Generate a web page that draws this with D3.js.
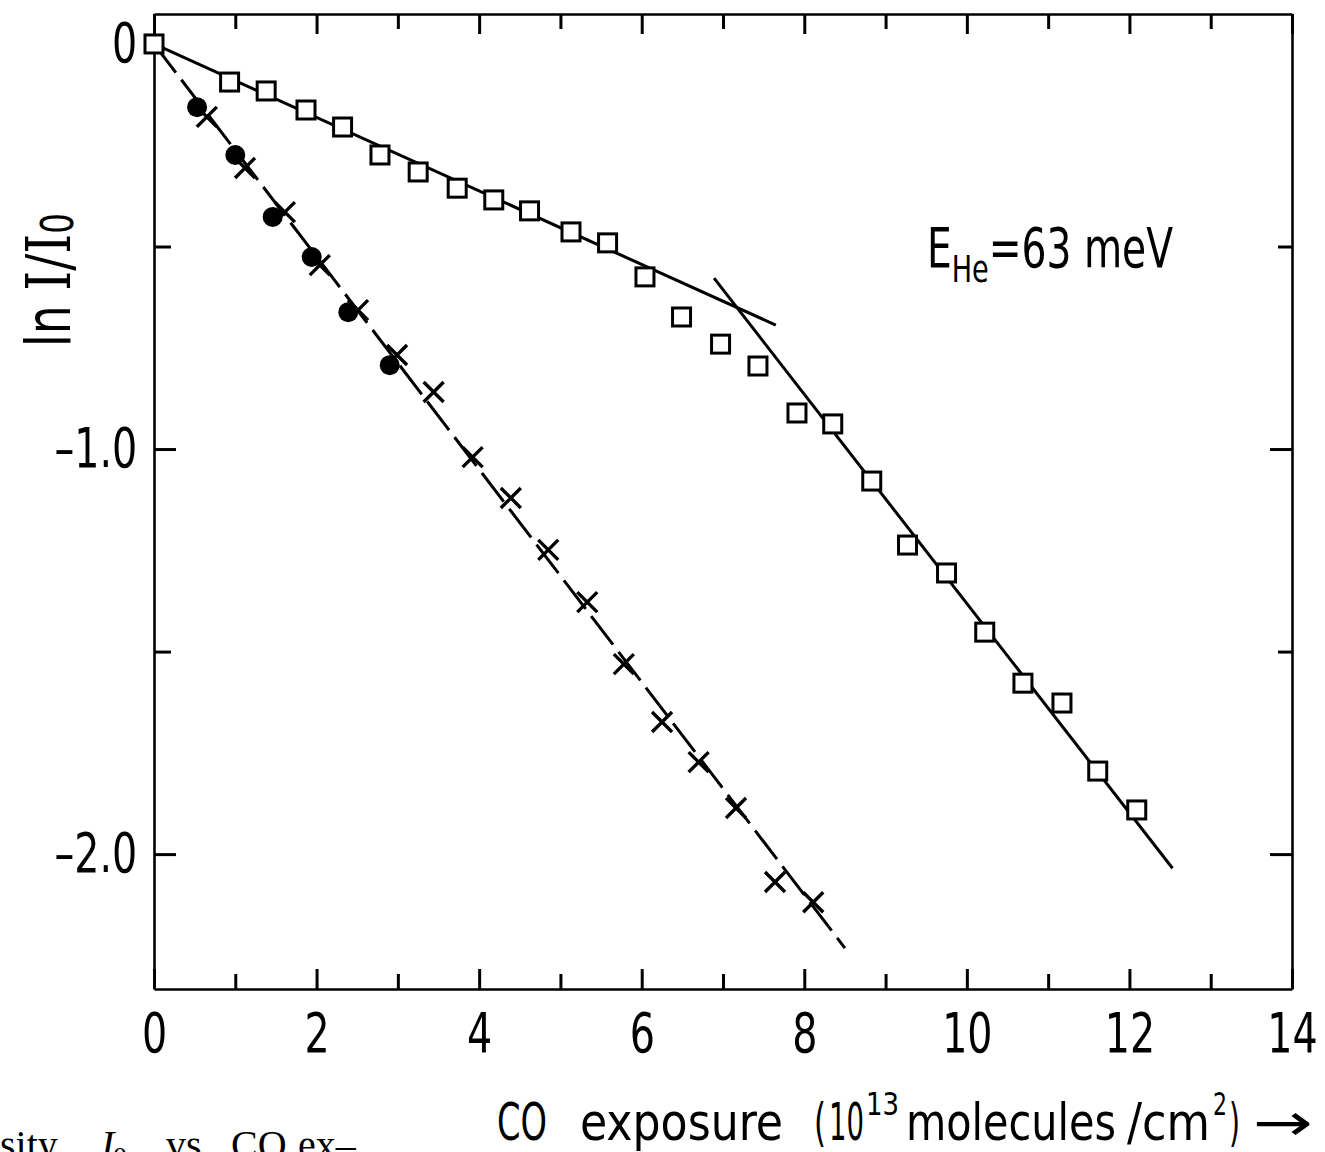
<!DOCTYPE html>
<html>
<head>
<meta charset="utf-8">
<script src="https://cdn.jsdelivr.net/npm/d3@7"></script>
<style>
  body { margin: 0; background: #fff; }
  svg { display: block; }
</style>
</head>
<body>
<script>
// ln I/I0 vs CO exposure
var squares = [
  [0, 0], [0.93, -0.094], [1.38, -0.116], [1.87, -0.163], [2.32, -0.205],
  [2.78, -0.274], [3.25, -0.316], [3.73, -0.356], [4.18, -0.385], [4.62, -0.412],
  [5.13, -0.464], [5.58, -0.491], [6.04, -0.575], [6.49, -0.674], [6.97, -0.741],
  [7.43, -0.795], [7.91, -0.911], [8.35, -0.938], [8.83, -1.079], [9.27, -1.237],
  [9.75, -1.306], [10.22, -1.452], [10.69, -1.578], [11.17, -1.627], [11.61, -1.795],
  [12.09, -1.891]
];

var crosses = [
  [0.65, -0.180], [1.12, -0.306], [1.61, -0.415], [2.04, -0.546], [2.51, -0.657],
  [2.99, -0.768], [3.44, -0.859], [3.92, -1.020], [4.39, -1.121], [4.85, -1.249],
  [5.33, -1.378], [5.78, -1.531], [6.25, -1.674], [6.70, -1.773], [7.16, -1.886],
  [7.64, -2.069], [8.11, -2.119]
];

var dots = [
  [0.53, -0.156], [1.00, -0.274], [1.46, -0.427], [1.94, -0.526], [2.39, -0.662],
  [2.90, -0.793]
];

// straight fits drawn in the figure
var fitLow = [[0, 0], [7.65, -0.694]];
var fitHigh = [[6.89, -0.578], [12.53, -2.035]];
var fitDashed = [[0, 0], [8.50, -2.232]];

var xMajor = [0, 2, 4, 6, 8, 10, 12, 14];
var xMinor = [1, 3, 5, 7, 9, 11, 13];
var yMajor = [0, -1, -2];
var yMinor = [-0.5, -1.5];
var yTickLabels = {"0": "0", "-1": "\u20131.0", "-2": "\u20132.0"};

var W = 1325, H = 1152;
var sansC = "'DejaVu Sans Condensed', 'DejaVu Sans', sans-serif";
var serif = "'Liberation Serif', 'DejaVu Serif', serif";

var svg = d3.select("body").append("svg")
  .attr("width", W)
  .attr("height", H);

var x = d3.scaleLinear().domain([0, 14]).range([154, 1292]);
var y = d3.scaleLinear().domain([0.074, -2.333]).range([14, 989]);

function styleAxis(g, keepDomain) {
  g.selectAll(".tick line").attr("stroke", "#000").attr("stroke-width", 3);
  if (keepDomain) g.select(".domain").attr("stroke", "#000").attr("stroke-width", 2.6);
  else g.select(".domain").remove();
  g.selectAll("text")
    .attr("fill", "#000")
    .attr("font-family", sansC)
    .attr("font-size", 55)
    .attr("transform", "scale(0.8,1)");
}

// bottom
svg.append("g").attr("transform", "translate(0," + y.range()[1] + ")")
  .call(d3.axisBottom(x).tickValues(xMajor).tickSizeInner(-20).tickSizeOuter(0).tickPadding(24)
    .tickFormat(d3.format("d")))
  .call(styleAxis, true);
svg.append("g").attr("transform", "translate(0," + y.range()[1] + ")")
  .call(d3.axisBottom(x).tickValues(xMinor).tickSizeInner(-15).tickSizeOuter(0).tickFormat(""))
  .call(styleAxis, false);

// top
svg.append("g").attr("transform", "translate(0," + y.range()[0] + ")")
  .call(d3.axisTop(x).tickValues(xMajor).tickSizeInner(-20).tickSizeOuter(0).tickFormat(""))
  .call(styleAxis, true);
svg.append("g").attr("transform", "translate(0," + y.range()[0] + ")")
  .call(d3.axisTop(x).tickValues(xMinor).tickSizeInner(-15).tickSizeOuter(0).tickFormat(""))
  .call(styleAxis, false);

// left
var left = svg.append("g").attr("transform", "translate(" + x.range()[0] + ",0)")
  .call(d3.axisLeft(y).tickValues(yMajor).tickSizeInner(-22).tickSizeOuter(0).tickPadding(21)
    .tickFormat(function(d) { return yTickLabels[String(d)]; }))
  .call(styleAxis, true);
left.selectAll(".tick").filter(function(d) { return d === 0; }).select("line").remove();
svg.append("g").attr("transform", "translate(" + x.range()[0] + ",0)")
  .call(d3.axisLeft(y).tickValues(yMinor).tickSizeInner(-17).tickSizeOuter(0).tickFormat(""))
  .call(styleAxis, false);

// right
var right = svg.append("g").attr("transform", "translate(" + x.range()[1] + ",0)")
  .call(d3.axisRight(y).tickValues(yMajor).tickSizeInner(-22).tickSizeOuter(0).tickFormat(""))
  .call(styleAxis, true);
right.selectAll(".tick").filter(function(d) { return d === 0; }).remove();
svg.append("g").attr("transform", "translate(" + x.range()[1] + ",0)")
  .call(d3.axisRight(y).tickValues(yMinor).tickSizeInner(-14).tickSizeOuter(0).tickFormat(""))
  .call(styleAxis, false);

// fit lines
var line = d3.line().x(function(d) { return x(d[0]); }).y(function(d) { return y(d[1]); });

svg.append("path").datum(fitLow).attr("d", line)
  .attr("fill", "none").attr("stroke", "#000").attr("stroke-width", 3);
svg.append("path").datum(fitHigh).attr("d", line)
  .attr("fill", "none").attr("stroke", "#000").attr("stroke-width", 3);
svg.append("path").datum(fitDashed).attr("d", line)
  .attr("fill", "none").attr("stroke", "#000").attr("stroke-width", 3)
  .attr("stroke-dasharray", "36,9");

// open squares
svg.selectAll("rect.sq").data(squares).enter()
  .append("rect").attr("class", "sq")
  .attr("x", function(d) { return x(d[0]) - 9; })
  .attr("y", function(d) { return y(d[1]) - 9; })
  .attr("width", 18).attr("height", 18)
  .attr("fill", "#fff").attr("stroke", "#000").attr("stroke-width", 3);

// filled dots
svg.selectAll("circle.dot").data(dots).enter()
  .append("circle").attr("class", "dot")
  .attr("cx", function(d) { return x(d[0]); })
  .attr("cy", function(d) { return y(d[1]); })
  .attr("r", 10)
  .attr("fill", "#000");

// crosses
svg.selectAll("path.cross").data(crosses).enter()
  .append("path").attr("class", "cross")
  .attr("transform", function(d) { return "translate(" + x(d[0]) + "," + y(d[1]) + ")"; })
  .attr("d", "M-10,-10L10,10M-10,10L10,-10")
  .attr("fill", "none").attr("stroke", "#000").attr("stroke-width", 3.4);

// annotation
var ann = svg.append("text")
  .attr("x", 927).attr("y", 267)
  .attr("font-family", sansC).attr("font-size", 55).attr("fill", "#000")
  .attr("textLength", 246).attr("lengthAdjust", "spacingAndGlyphs");
ann.append("tspan").text("E");
ann.append("tspan").attr("font-size", 38).attr("dy", 15).text("He");
ann.append("tspan").attr("dy", -15).text("=63 meV");

// y axis title
var yt = svg.append("text")
  .attr("transform", "translate(70,280) rotate(-90)")
  .attr("text-anchor", "middle")
  .attr("font-family", sansC).attr("font-size", 62).attr("fill", "#000")
  .attr("textLength", 134).attr("lengthAdjust", "spacingAndGlyphs");
yt.append("tspan").text("ln ");
yt.append("tspan").attr("font-family", "'DejaVu Serif', serif").text("I/I");
yt.append("tspan").attr("font-size", 44).attr("dy", 3).text("0");

// x axis title, word by word
var xTitle = [
  {t: "CO", x: 497, w: 50},
  {t: "exposure", x: 580, w: 203},
  {t: "(", x: 814, w: 12},
  {t: "10", x: 829, w: 35},
  {t: "13", x: 866, w: 33, sup: true},
  {t: "molecules", x: 906, w: 210},
  {t: "/cm", x: 1127, w: 83},
  {t: "2", x: 1213, w: 14, sup: true},
  {t: ")", x: 1229, w: 11},
  {t: "\u2192", x: 1253, w: 60}
];
svg.selectAll("text.xtitle").data(xTitle).enter()
  .append("text").attr("class", "xtitle")
  .attr("x", function(d) { return d.x; })
  .attr("y", function(d) { return d.sup ? 1115 : 1140; })
  .attr("font-family", sansC)
  .attr("font-size", function(d) { return d.sup ? 32 : 51; })
  .attr("fill", "#000")
  .attr("textLength", function(d) { return d.w; })
  .attr("lengthAdjust", "spacingAndGlyphs")
  .text(function(d) { return d.t; });

// caption fragment cut off at the bottom
var caption = [
  {t: "sity.", x: 0},
  {t: "I", x: 101, it: true},
  {t: "0", x: 113, sub: true},
  {t: "vs", x: 166},
  {t: "CO", x: 231},
  {t: "ex\u2013", x: 298}
];
svg.selectAll("text.cap").data(caption).enter()
  .append("text").attr("class", "cap")
  .attr("x", function(d) { return d.x; })
  .attr("y", function(d) { return d.sub ? 1166 : 1158; })
  .attr("font-family", serif)
  .attr("font-size", function(d) { return d.sub ? 28 : 40; })
  .attr("font-style", function(d) { return d.it ? "italic" : "normal"; })
  .attr("fill", "#000")
  .text(function(d) { return d.t; });
</script>
</body>
</html>
